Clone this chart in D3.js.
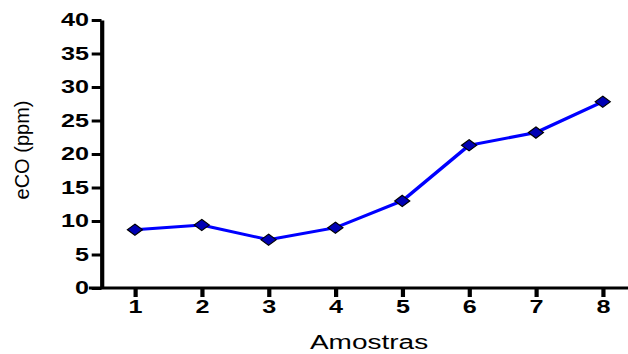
<!DOCTYPE html>
<html lang="pt">
  <head>
    <meta charset="utf-8" />
    <title>eCO por amostra</title>
    <script src="https://d3js.org/d3.v7.min.js"></script>
    <style>
      body {
        margin: 0;
        background: #fff;
      }
      svg {
        display: block;
        font-family: "Liberation Sans", Arial, sans-serif;
      }
      .tick text {
        font-weight: bold;
        font-size: 18px;
        fill: #000;
      }
    </style>
  </head>
  <body>
    <svg id="chart" width="628" height="354"></svg>
    <script>
      // dados
      const amostras = [1, 2, 3, 4, 5, 6, 7, 8];
      const eco = [8.7, 9.4, 7.2, 9.0, 13.0, 21.3, 23.2, 27.8];
      const yTicks = [0, 5, 10, 15, 20, 25, 30, 35, 40];

      const svg = d3.select("#chart");
      const stretch = 1.4; // o original está esticado na horizontal

      // coordenadas "não esticadas"
      const axisX = 72.5,
        rightX = 454.4,
        plotTop = 20,
        plotBottom = 288;

      const x = d3
        .scalePoint()
        .domain(amostras)
        .range([axisX, rightX])
        .padding(0.5);

      const y = d3.scaleLinear().domain([0, 40]).range([plotBottom, plotTop]);

      const g = svg.append("g").attr("transform", `scale(${stretch},1)`);

      // eixo y
      const yAxis = g
        .append("g")
        .attr("transform", `translate(${axisX},0)`)
        .call(
          d3.axisLeft(y).tickValues(yTicks).tickSize(7).tickPadding(2).tickSizeOuter(0)
        );
      yAxis.select(".domain").attr("stroke-width", 3);
      yAxis.selectAll(".tick line").attr("stroke-width", 3);

      // eixo x
      const xAxis = g
        .append("g")
        .attr("transform", `translate(0,${plotBottom})`)
        .call(d3.axisBottom(x).tickSize(9).tickPadding(3).tickSizeOuter(0));
      xAxis
        .select(".domain")
        .attr("stroke-width", 3)
        .attr("d", `M${axisX - 9},0H${rightX}`);
      xAxis.selectAll(".tick line").attr("stroke-width", 3);

      // linha
      const line = d3
        .line()
        .x((d, i) => x(amostras[i]))
        .y((d) => y(d));

      g.append("path")
        .datum(eco)
        .attr("fill", "none")
        .attr("stroke", "#0000ff")
        .attr("stroke-width", 3)
        .attr("d", line);

      // marcadores (losangos)
      g.append("g")
        .selectAll("path")
        .data(eco)
        .join("path")
        .attr("transform", (d, i) => `translate(${x(amostras[i])},${y(d)})`)
        .attr("d", "M0,-5.6L5.4,0L0,5.6L-5.4,0Z")
        .attr("fill", "#0000b4")
        .attr("stroke", "#000")
        .attr("stroke-width", 1);

      // título eixo x
      g.append("text")
        .attr("x", 263.6)
        .attr("y", 349)
        .attr("text-anchor", "middle")
        .attr("font-size", 20)
        .text("Amostras");

      // título eixo y (não esticado)
      svg
        .append("text")
        .attr("transform", "translate(29,150) rotate(-90)")
        .attr("text-anchor", "middle")
        .attr("font-size", 20)
        .text("eCO (ppm)");
    </script>
  </body>
</html>
